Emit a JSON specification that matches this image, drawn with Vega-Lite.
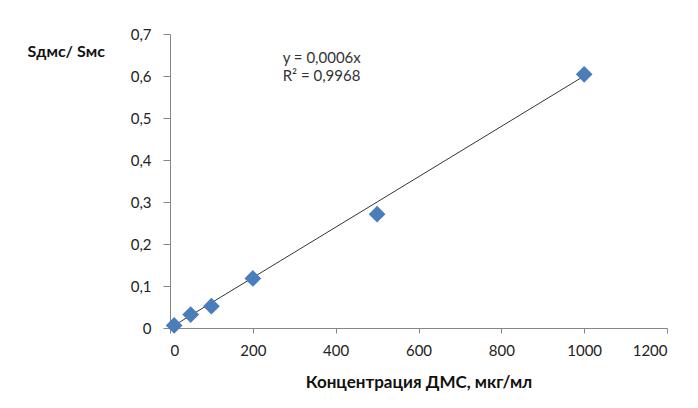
{
  "$schema": "https://vega.github.io/schema/vega-lite/v6.json",
  "width": 497,
  "height": 294,
  "autosize": {"type": "none"},
  "padding": {"left": 170, "top": 34, "right": 31, "bottom": 80},
  "background": "white",
  "config": {
    "view": {"stroke": null},
    "font": "Lato",
    "axis": {
      "grid": false,
      "domainColor": "#868686",
      "tickColor": "#868686",
      "labelColor": "#222222",
      "labelFont": "Lato",
      "labelFontSize": 15,
      "titleFont": "Lato",
      "titleColor": "#111111"
    }
  },
  "datasets": {
    "points": [
      {"conc": 10, "ratio": 0.006},
      {"conc": 50, "ratio": 0.032},
      {"conc": 100, "ratio": 0.052},
      {"conc": 200, "ratio": 0.118},
      {"conc": 500, "ratio": 0.271},
      {"conc": 1000, "ratio": 0.604}
    ],
    "trend": [
      {"conc": 10, "ratio": 0.006},
      {"conc": 1000, "ratio": 0.6}
    ],
    "label": [
      {"text1": "y = 0,0006x", "text2": "R² = 0,9968"}
    ]
  },
  "layer": [
    {
      "data": {"name": "trend"},
      "mark": {"type": "line", "color": "#000000", "strokeWidth": 0.8},
      "encoding": {
        "x": {
          "field": "conc",
          "type": "quantitative",
          "scale": {"domain": [0, 1200], "nice": false},
          "axis": {
            "values": [0, 200, 400, 600, 800, 1000, 1200],
            "format": "d",
            "tickSize": 5,
            "labelPadding": 10,
            "title": "Концентрация ДМС, мкг/мл",
            "titleFontSize": 17,
            "titleFontWeight": "bold",
            "titlePadding": 16
          }
        },
        "y": {
          "field": "ratio",
          "type": "quantitative",
          "scale": {"domain": [0, 0.7], "nice": false},
          "axis": {
            "values": [0, 0.1, 0.2, 0.3, 0.4, 0.5, 0.6, 0.7],
            "format": ".1~f",
            "labelExpr": "replace(datum.label, '.', ',')",
            "tickSize": 7,
            "labelPadding": 12,
            "title": "Sдмс/ Sмс",
            "titleFontSize": 16,
            "titleFontWeight": "bold",
            "titleAngle": 0,
            "titleAlign": "left",
            "titleBaseline": "alphabetic",
            "titleX": -143,
            "titleY": 22
          }
        }
      }
    },
    {
      "data": {"name": "points"},
      "mark": {"type": "point", "shape": "diamond", "filled": true, "color": "#4A7EBB", "size": 280, "opacity": 1},
      "encoding": {
        "x": {"field": "conc", "type": "quantitative"},
        "y": {"field": "ratio", "type": "quantitative"}
      }
    },
    {
      "data": {"name": "label"},
      "mark": {"type": "text", "align": "left", "baseline": "alphabetic", "fontSize": 15, "color": "#333333", "font": "Lato"},
      "encoding": {
        "x": {"datum": 272, "type": "quantitative"},
        "y": {"datum": 0.632, "type": "quantitative"},
        "text": {"field": "text1"}
      }
    },
    {
      "data": {"name": "label"},
      "mark": {"type": "text", "align": "left", "baseline": "alphabetic", "fontSize": 15, "color": "#333333", "font": "Lato"},
      "encoding": {
        "x": {"datum": 272, "type": "quantitative"},
        "y": {"datum": 0.589, "type": "quantitative"},
        "text": {"field": "text2"}
      }
    }
  ]
}
